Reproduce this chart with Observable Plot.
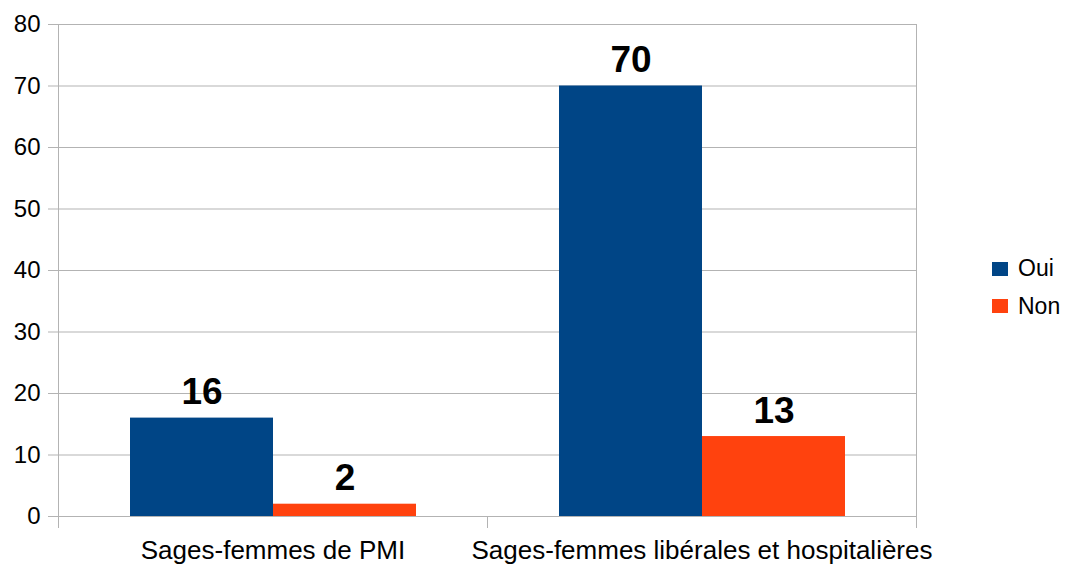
<!DOCTYPE html>
<html>
<head>
<meta charset="utf-8">
<script src="https://cdn.jsdelivr.net/npm/d3@7"></script>
<script src="https://cdn.jsdelivr.net/npm/@observablehq/plot@0.6"></script>
<style>
  html, body { margin: 0; padding: 0; background: #fff; }
  #wrap { position: relative; width: 1072px; height: 564px; font-family: "Liberation Sans", Arial, sans-serif; }
  #legend { position: absolute; left: 992px; top: 250px; font-size: 23px; color: #000; }
  .item { display: flex; align-items: center; height: 37.5px; }
  .sw { width: 16px; height: 14px; margin-right: 10px; }
</style>
</head>
<body>
<div id="wrap"><div id="legend"></div></div>
<script>
const categories = ["Sages-femmes de PMI", "Sages-femmes libérales et hospitalières"];
const series = ["Oui", "Non"];
const ouiValues = [16, 70];
const nonValues = [2, 13];
const yTicks = [0, 10, 20, 30, 40, 50, 60, 70, 80];
const colors = ["#004586", "#ff420e"];

const data = [];
categories.forEach((c, i) => {
  data.push({cat: c, series: "Oui", value: ouiValues[i]});
  data.push({cat: c, series: "Non", value: nonValues[i]});
});

const grid = "#b3b3b3";

const chart = Plot.plot({
  width: 1072,
  height: 564,
  marginLeft: 58,
  marginRight: 156,
  marginTop: 24,
  marginBottom: 48,
  style: {fontFamily: "'Liberation Sans', Arial, sans-serif", background: "transparent", overflow: "visible"},
  fx: {domain: categories, paddingInner: 0, paddingOuter: 0, label: null},
  x: {domain: series, paddingInner: 0, paddingOuter: 0.5, axis: null},
  y: {domain: [0, 80], label: null},
  color: {domain: series, range: colors},
  marks: [
    Plot.gridY(yTicks, {stroke: grid, strokeOpacity: 1}),
    Plot.axisY(yTicks, {tickSize: 10, tickPadding: 8, stroke: grid, strokeOpacity: 1, fill: "#000", fontSize: 24, label: null}),
    Plot.barY(data, {fx: "cat", x: "series", y: "value", fill: "series"}),
    Plot.text(data, {fx: "cat", x: "series", y: "value", text: d => String(d.value), lineAnchor: "bottom", dy: -14, fontSize: 37, fontWeight: "bold", fill: "#000"}),
    Plot.ruleY([0], {stroke: grid}),
    Plot.frame({anchor: "left", facetAnchor: "left", insetBottom: -11, stroke: grid}),
    Plot.frame({anchor: "right", facetAnchor: "right", insetBottom: -11, stroke: grid}),
    Plot.frame({anchor: "left", facetAnchor: "right", insetTop: 492, insetBottom: -11, stroke: grid}),
    Plot.axisFx({anchor: "bottom", tickSize: 0, tickPadding: 24, fontSize: 26, fill: "#000", label: null})
  ]
});

document.getElementById("wrap").prepend(chart);

const legend = document.getElementById("legend");
series.forEach((s, i) => {
  const item = document.createElement("div");
  item.className = "item";
  const sw = document.createElement("div");
  sw.className = "sw";
  sw.style.background = colors[i];
  const t = document.createElement("span");
  t.textContent = s;
  item.append(sw, t);
  legend.append(item);
});
</script>
</body>
</html>
